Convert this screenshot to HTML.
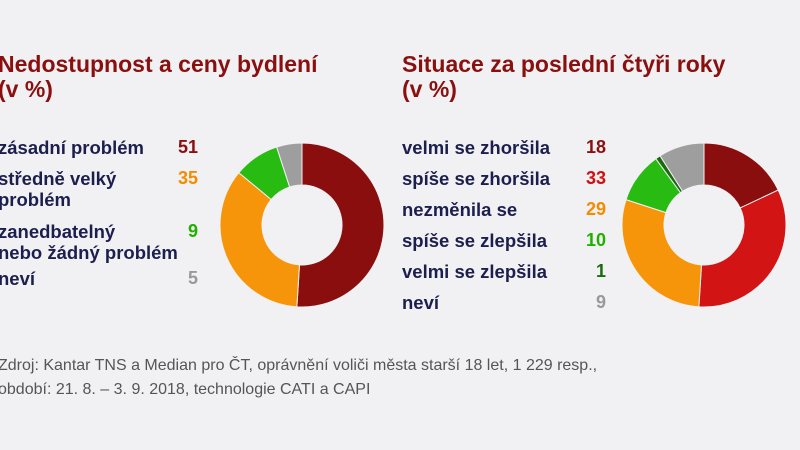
<!DOCTYPE html>
<html><head><meta charset="utf-8"><style>
body{margin:0;width:800px;height:450px;background:#f1f1f3;font-family:"Liberation Sans",sans-serif;position:relative;overflow:hidden}
.t{position:absolute;color:#8a1010;font-weight:bold;font-size:23px;line-height:25px}
.l{position:absolute;color:#1c1f4e;font-weight:bold;font-size:18.5px;line-height:21px}
.n{position:absolute;font-weight:bold;font-size:18px;line-height:21px;text-align:right;width:40px}
.s{position:absolute;color:#555;font-size:16px;line-height:24px;left:-2px}
svg{position:absolute;left:0;top:0}
</style></head><body>
<div class="t" style="left:-2px;top:52px">Nedostupnost a ceny bydlení<br>(v %)</div>
<div class="t" style="left:402px;top:52px">Situace za poslední čtyři roky<br>(v %)</div>

<div class="l" style="left:-2px;top:137px">zásadní problém</div><div class="n" style="left:158px;top:137px;color:#8a1010">51</div>
<div class="l" style="left:-2px;top:168px">středně velký<br>problém</div><div class="n" style="left:158px;top:168px;color:#f28c00">35</div>
<div class="l" style="left:-2px;top:221px">zanedbatelný<br>nebo žádný problém</div><div class="n" style="left:158px;top:221px;color:#22b000">9</div>
<div class="l" style="left:-2px;top:268px">neví</div><div class="n" style="left:158px;top:268px;color:#999">5</div>

<div class="l" style="left:402px;top:137px">velmi se zhoršila</div><div class="n" style="left:566px;top:137px;color:#8a1010">18</div>
<div class="l" style="left:402px;top:168px">spíše se zhoršila</div><div class="n" style="left:566px;top:168px;color:#d01010">33</div>
<div class="l" style="left:402px;top:199px">nezměnila se</div><div class="n" style="left:566px;top:199px;color:#f28c00">29</div>
<div class="l" style="left:402px;top:230px">spíše se zlepšila</div><div class="n" style="left:566px;top:230px;color:#22b000">10</div>
<div class="l" style="left:402px;top:261px">velmi se zlepšila</div><div class="n" style="left:566px;top:261px;color:#1a6a10">1</div>
<div class="l" style="left:402px;top:292px">neví</div><div class="n" style="left:566px;top:292px;color:#999">9</div>

<div class="s" style="top:354px">Zdroj: Kantar TNS a Median pro ČT, oprávnění voliči města starší 18 let, 1 229 resp.,<br>období: 21. 8. – 3. 9. 2018, technologie CATI a CAPI</div>

<svg width="800" height="450" id="sv"></svg>
<script>
var sv=document.getElementById('sv');
function donut(cx,cy,data){
 var R=82,r=40,a=-Math.PI/2,h='';
 data.forEach(function(d){
  var b=a+d[0]/100*2*Math.PI,l=(b-a)>Math.PI?1:0;
  function p(rr,t){return (cx+rr*Math.cos(t)).toFixed(2)+' '+(cy+rr*Math.sin(t)).toFixed(2)}
  h+='<path d="M'+p(R,a)+' A'+R+' '+R+' 0 '+l+' 1 '+p(R,b)+' L'+p(r,b)+' A'+r+' '+r+' 0 '+l+' 0 '+p(r,a)+' Z" fill="'+d[1]+'" stroke="#f1f1f3" stroke-width="1"/>';
  a=b;});
 return h;}
sv.innerHTML=donut(302,225,[[51,'#8b0e0e'],[35,'#f7950a'],[9,'#28bb12'],[5,'#9e9e9e']])+
 donut(704,225,[[18,'#8b0e0e'],[33,'#d21414'],[29,'#f7950a'],[10,'#28bb12'],[1,'#1a6a10'],[9,'#9e9e9e']]);
</script>
</body></html>
